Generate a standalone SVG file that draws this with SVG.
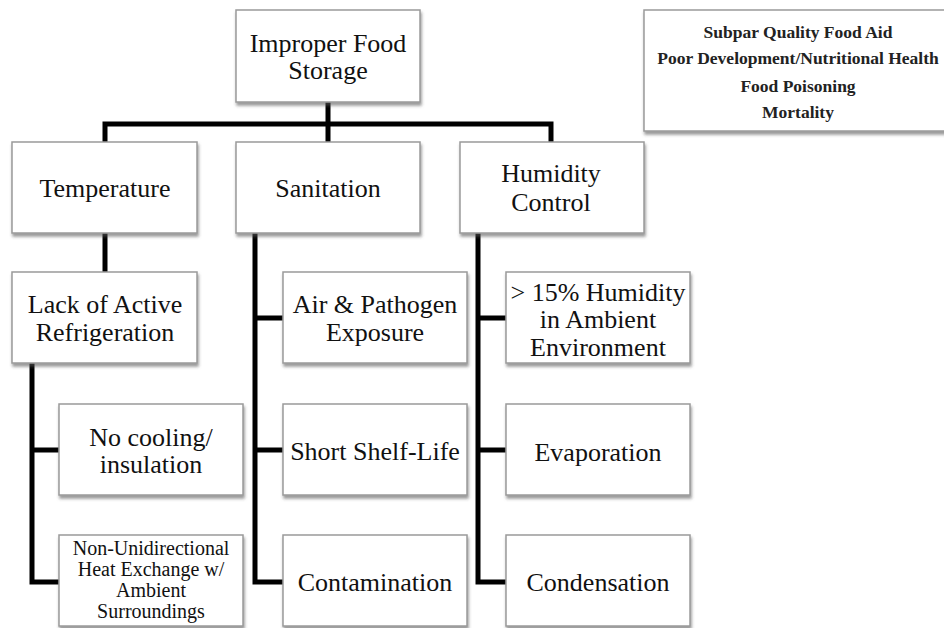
<svg xmlns="http://www.w3.org/2000/svg" width="944" height="628" viewBox="0 0 944 628">
<defs>
<filter id="sh" x="-10%" y="-10%" width="130%" height="140%">
<feDropShadow dx="1" dy="3" stdDeviation="1.5" flood-color="#555" flood-opacity="0.6"/>
</filter>
</defs>
<style>
.box{fill:#fff;stroke:#9a9a9a;stroke-width:1.5;filter:url(#sh)}
.t{font-family:"Liberation Serif","DejaVu Serif",serif;font-size:26px;fill:#111;text-anchor:middle;dominant-baseline:central}
.s{font-size:20px}
.l{font-family:"Liberation Serif","DejaVu Serif",serif;font-size:17.5px;font-weight:bold;fill:#222;text-anchor:middle;dominant-baseline:central}
.c{fill:none;stroke:#000;stroke-width:5;stroke-linejoin:miter;stroke-linecap:butt}
</style>
<rect width="944" height="628" fill="#fff"/>
<g id="connectors">
<path class="c" d="M328 102V124M105 142V124H551V142M328 124V142"/>
<path class="c" d="M105 233V272"/>
<path class="c" d="M32 363V582H59M32 450H59"/>
<path class="c" d="M255 233V582H283M255 318H283M255 450H283"/>
<path class="c" d="M478 233V582H506M478 318H506M478 450H506"/>
</g>
<g id="root"><rect class="box" x="236" y="10" width="184" height="92"/>
<text class="t" x="328" y="43">Improper Food</text><text class="t" x="328" y="70">Storage</text></g>
<g id="legend"><rect class="box" x="644" y="10" width="310" height="121"/>
<text class="l" x="798" y="32">Subpar Quality Food Aid</text>
<text class="l" x="798" y="58">Poor Development/Nutritional Health</text>
<text class="l" x="798" y="86">Food Poisoning</text>
<text class="l" x="798" y="112">Mortality</text></g>
<g id="temperature"><rect class="box" x="12" y="142" width="185" height="91"/>
<text class="t" x="105" y="188">Temperature</text></g>
<g id="sanitation"><rect class="box" x="236" y="142" width="184" height="91"/>
<text class="t" x="328" y="188">Sanitation</text></g>
<g id="humidity"><rect class="box" x="460" y="142" width="184" height="91"/>
<text class="t" x="551" y="173">Humidity</text><text class="t" x="551" y="202">Control</text></g>
<g id="lack"><rect class="box" x="12" y="272" width="185" height="91"/>
<text class="t" x="105" y="304">Lack of Active</text><text class="t" x="105" y="332">Refrigeration</text></g>
<g id="air"><rect class="box" x="283" y="272" width="184" height="91"/>
<text class="t" x="375" y="304">Air &amp; Pathogen</text><text class="t" x="375" y="332">Exposure</text></g>
<g id="over15"><rect class="box" x="506" y="272" width="184" height="91"/>
<text class="t" x="598" y="292">&gt; 15% Humidity</text><text class="t" x="598" y="319">in Ambient</text><text class="t" x="598" y="347">Environment</text></g>
<g id="nocooling"><rect class="box" x="59" y="404" width="184" height="91"/>
<text class="t" x="151" y="437">No cooling/</text><text class="t" x="151" y="464">insulation</text></g>
<g id="shelf"><rect class="box" x="283" y="404" width="184" height="91"/>
<text class="t" x="375" y="451">Short Shelf-Life</text></g>
<g id="evap"><rect class="box" x="506" y="404" width="184" height="91"/>
<text class="t" x="598" y="452">Evaporation</text></g>
<g id="nonuni"><rect class="box" x="59" y="535" width="184" height="91"/>
<text class="t s" x="151" y="548">Non-Unidirectional</text><text class="t s" x="151" y="569">Heat Exchange w/</text><text class="t s" x="151" y="590">Ambient</text><text class="t s" x="151" y="611">Surroundings</text></g>
<g id="contam"><rect class="box" x="283" y="535" width="184" height="91"/>
<text class="t" x="375" y="582">Contamination</text></g>
<g id="cond"><rect class="box" x="506" y="535" width="184" height="91"/>
<text class="t" x="598" y="582">Condensation</text></g>
</svg>
